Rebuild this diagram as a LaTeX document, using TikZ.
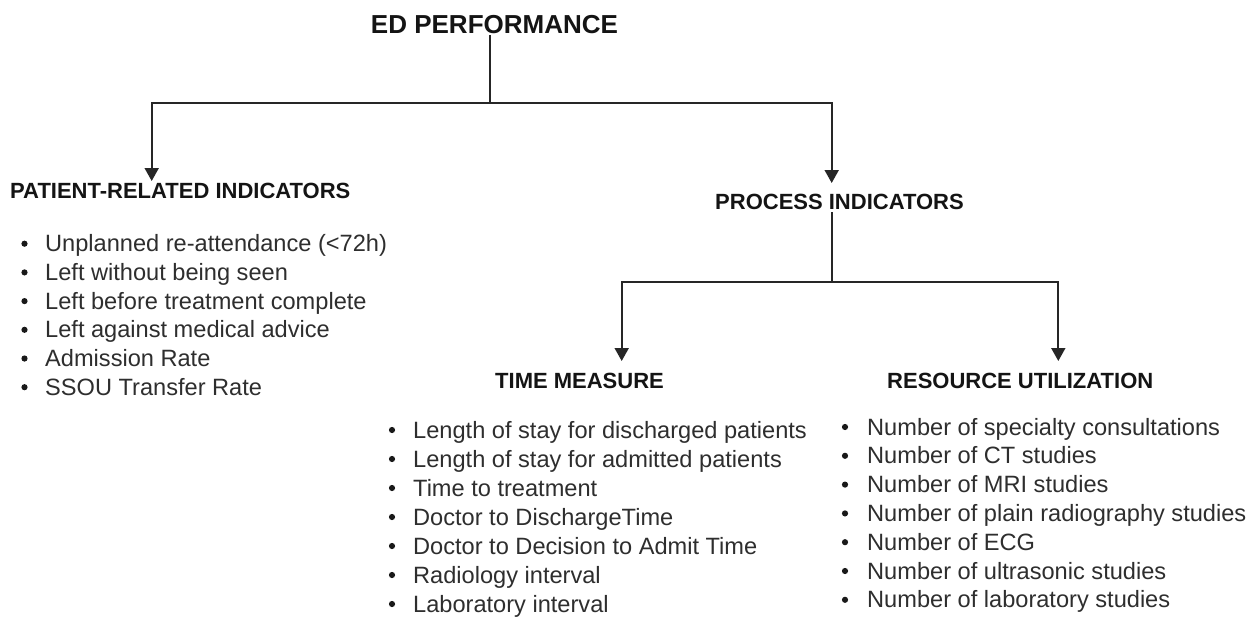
\documentclass[tikz,border=0pt]{standalone}
\usepackage{fontspec}
\setmainfont{Liberation Sans}
\usetikzlibrary{arrows.meta}
\begin{document}
\begin{tikzpicture}[x=1pt,y=-1pt,
  ln/.style={draw=black!85,line width=1.9pt},
  arr/.style={ln,-{Triangle[width=14pt,length=13pt]}},
  ttl/.style={inner sep=0pt,anchor=base,font=\fontsize{26}{30}\selectfont\bfseries,text=black!92},
  hdr/.style={inner sep=0pt,anchor=base west,font=\fontsize{22}{26}\selectfont\bfseries,text=black!92},
  itm/.style={inner sep=0pt,anchor=base west,font=\fontsize{23.6}{28}\selectfont,text=black!82},
  bul/.style={fill=black!90},
]
\fill[white] (0,0) rectangle (1256,621);
\useasboundingbox (0,0) rectangle (1256,621);

% headers
\node[ttl] (t) at (494.5,33) {ED PERFORMANCE};
\node[hdr] (pr) at (10,198) {PATIENT-RELATED INDICATORS};
\node[hdr] (pi) at (715,209) {PROCESS INDICATORS};
\node[hdr] (tm) at (495,388) {TIME MEASURE};
\node[hdr] (ru) at (887,388) {RESOURCE UTILIZATION};

% connectors
\coordinate (j1) at (490,103);
\coordinate (a1) at (151.7,181);
\coordinate (a2) at (831.7,183);
\coordinate (j2) at (831.7,281.7);
\coordinate (a3) at (621.7,361);
\coordinate (a4) at (1058.3,361);
\draw[ln] (t.south -| j1) ++(0,2) -- (j1);
\draw[arr] (j1) -| (a1);
\draw[arr] (j1) -| (a2);
\draw[ln] (pi.south -| j2) ++(0,3) -- (j2);
\draw[arr] (j2) -| (a3);
\draw[arr] (j2) -| (a4);

% patient-related list
\foreach \s [count=\i] in {Unplanned re-attendance (<72h),Left without being seen,Left before treatment complete,Left against medical advice,Admission Rate,SSOU Transfer Rate}{
  \node[itm] (p\i) at (45,{251.7+28.7*(\i-1)}) {\s};
  \fill[bul] ([xshift=-20.5pt,yshift=8pt]p\i.base west) circle (3.1pt);
}
% time measure list
\foreach \s [count=\i] in {Length of stay for discharged patients,Length of stay for admitted patients,Time to treatment,Doctor to DischargeTime,Doctor to Decision to Admit Time,Radiology interval,Laboratory interval}{
  \node[itm] (m\i) at (413,{438+29*(\i-1)}) {\s};
  \fill[bul] ([xshift=-21pt,yshift=8pt]m\i.base west) circle (3.1pt);
}
% resource utilization list
\foreach \s [count=\i] in {Number of specialty consultations,Number of CT studies,Number of MRI studies,Number of plain radiography studies,Number of ECG,Number of ultrasonic studies,Number of laboratory studies}{
  \node[itm] (r\i) at (867,{435+28.8*(\i-1)}) {\s};
  \fill[bul] ([xshift=-22pt,yshift=8pt]r\i.base west) circle (3.1pt);
}
\end{tikzpicture}
\end{document}
